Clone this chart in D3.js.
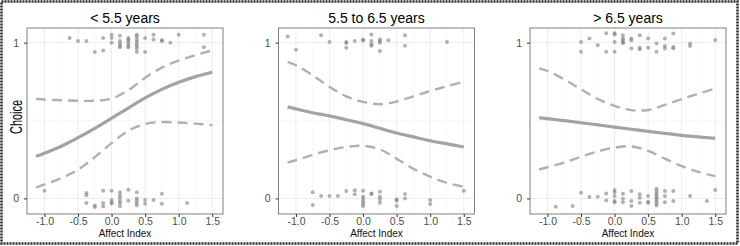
<!DOCTYPE html>
<html>
<head>
<meta charset="utf-8">
<script src="https://cdn.jsdelivr.net/npm/d3@7"></script>
<style>
  body { margin: 0; background: #fff; }
  svg { display: block; font-family: "Liberation Sans", Arial, sans-serif; }
</style>
</head>
<body>
<div id="chart"></div>
<script>
// chart size
const width = 740;
const height = 246;

// panel titles and axis ticks
const panelTitles = ["< 5.5 years", "5.5 to 6.5 years", "> 6.5 years"];
const xTicks = [-1.0, -0.5, 0.0, 0.5, 1.0, 1.5];
const xMinor = [-0.75, -0.25, 0.25, 0.75, 1.25];
const yTicks = [0, 1];
const yMinor = [0.5];

const curveX = [-1.125, -1, -0.75, -0.5, -0.25, 0, 0.25, 0.5, 0.75, 1, 1.25, 1.5];

// panel 1 (< 5.5 years)
const fit1 = [0.27, 0.29, 0.335, 0.39, 0.45, 0.515, 0.58, 0.645, 0.70, 0.745, 0.782, 0.81];
const upper1 = [0.64, 0.635, 0.63, 0.627, 0.627, 0.64, 0.695, 0.775, 0.84, 0.885, 0.92, 0.95];
const lower1 = [0.07, 0.09, 0.13, 0.185, 0.265, 0.355, 0.435, 0.478, 0.49, 0.487, 0.48, 0.47];
const points1 = [
  [-0.625, 1.03], [-0.5, 1.01], [-0.375, 1.01], [-0.25, 0.94], [-0.125, 1.03], [-0.125, 0.95],
  [0, 1.05], [0, 1.03], [0, 1.0],
  [0.125, 1.045], [0.125, 1.01], [0.125, 0.995], [0.125, 0.98], [0.125, 0.97],
  [0.25, 1.03], [0.25, 1.02], [0.25, 1.01], [0.25, 0.995], [0.25, 0.98], [0.25, 0.97],
  [0.375, 1.05], [0.375, 1.04], [0.375, 1.02], [0.375, 1.005], [0.375, 0.99], [0.375, 0.975], [0.375, 0.96], [0.375, 0.94],
  [0.5, 1.03], [0.5, 0.94], [0.625, 1.05], [0.625, 1.02], [0.75, 1.015], [0.75, 1.01],
  [0.875, 1.0], [1.0, 1.05], [1.375, 1.05], [1.375, 0.97],
  [-1.0, 0.05], [-0.375, 0.035], [-0.375, 0.02], [-0.375, -0.03], [-0.25, -0.045], [-0.25, -0.055],
  [-0.125, 0.05], [-0.125, -0.03], [-0.125, -0.05],
  [0, 0.05], [0, -0.01], [0, -0.025], [0, -0.035],
  [0.125, 0.04], [0.125, 0.02], [0.125, 0.005], [0.125, -0.015], [0.125, -0.03], [0.125, -0.05],
  [0.25, 0.055], [0.25, -0.015],
  [0.375, 0.04], [0.375, 0.0], [0.375, -0.015], [0.375, -0.03], [0.375, -0.045],
  [0.5, -0.01], [0.5, -0.035], [0.625, -0.01], [0.75, 0.03], [0.75, -0.035], [1.125, -0.03]
];

// panel 2 (5.5 to 6.5 years)
const fit2 = [0.588, 0.575, 0.55, 0.53, 0.505, 0.48, 0.45, 0.42, 0.395, 0.37, 0.35, 0.33];
const upper2 = [0.876, 0.855, 0.79, 0.716, 0.655, 0.62, 0.605, 0.622, 0.655, 0.69, 0.72, 0.75];
const lower2 = [0.23, 0.245, 0.28, 0.31, 0.33, 0.338, 0.315, 0.255, 0.19, 0.14, 0.10, 0.075];
const points2 = [
  [-1.125, 1.04], [-1.0, 0.955], [-0.625, 1.047], [-0.5, 1.004],
  [-0.25, 1.004], [-0.25, 0.998], [-0.25, 0.968], [-0.125, 1.01], [0, 1.02], [0, 1.013],
  [0.125, 1.053], [0.125, 1.01], [0.125, 0.99], [0.125, 0.98],
  [0.25, 1.02], [0.25, 1.01], [0.25, 1.0], [0.25, 0.947],
  [0.375, 1.015], [0.625, 1.047], [0.625, 0.98], [1.25, 1.004],
  [-0.75, 0.04], [-0.75, -0.043], [-0.625, 0.015], [-0.5, 0.015], [-0.375, 0.015], [-0.25, 0.047],
  [-0.125, 0.053], [-0.125, 0.026],
  [0, 0.049], [0, 0.01], [0, -0.004], [0, -0.019], [0, -0.034], [0, -0.049],
  [0.125, 0.032], [0.125, 0.028],
  [0.25, 0.043], [0.25, 0.01], [0.25, -0.006], [0.25, -0.028],
  [0.5, -0.006], [0.5, -0.015], [0.5, -0.049], [0.625, 0.028], [0.625, 0.0],
  [1.0, -0.01], [1.0, -0.036], [1.5, 0.049]
];

// panel 3 (> 6.5 years)
const fit3 = [0.518, 0.512, 0.499, 0.486, 0.472, 0.458, 0.444, 0.43, 0.418, 0.405, 0.395, 0.385];
const upper3 = [0.835, 0.818, 0.764, 0.70, 0.638, 0.594, 0.567, 0.568, 0.60, 0.638, 0.672, 0.705];
const lower3 = [0.186, 0.20, 0.23, 0.268, 0.302, 0.326, 0.334, 0.306, 0.255, 0.208, 0.17, 0.143];
const points3 = [
  [-0.5, 1.004], [-0.5, 0.942], [-0.375, 1.026], [-0.25, 0.983], [-0.125, 1.06], [-0.125, 0.942],
  [0, 1.06], [0, 1.053], [0, 1.004], [0, 0.942],
  [0.125, 1.047], [0.125, 1.026], [0.125, 1.015], [0.125, 1.004], [0.125, 0.996],
  [0.25, 1.026], [0.25, 1.015], [0.25, 0.962], [0.375, 1.047], [0.375, 0.968], [0.375, 0.957],
  [0.5, 1.026], [0.5, 0.968], [0.625, 0.994], [0.625, 0.942],
  [0.75, 1.026], [0.75, 0.979], [0.75, 0.962], [0.875, 1.058], [0.875, 0.972], [0.875, 0.964],
  [1.125, 0.994], [1.125, 0.979], [1.5, 1.017],
  [-0.875, -0.054], [-0.625, -0.049], [-0.5, 0.036], [-0.375, 0.009], [-0.25, 0.011],
  [-0.125, 0.032], [-0.125, -0.013],
  [0, 0.054], [0, 0.04], [0, 0.015], [0, -0.017], [0, -0.024],
  [0.125, 0.03], [0.125, -0.002], [0.125, -0.024],
  [0.25, 0.047], [0.25, -0.017], [0.25, -0.049],
  [0.375, 0.026], [0.375, 0.004], [0.375, -0.028],
  [0.5, 0.015], [0.5, -0.021], [0.5, -0.028],
  [0.625, 0.062], [0.625, 0.047], [0.625, 0.032], [0.625, 0.019], [0.625, 0.006], [0.625, -0.006], [0.625, -0.019], [0.625, -0.032], [0.625, -0.045],
  [0.75, 0.047], [0.75, 0.015], [0.75, -0.024], [0.875, 0.047], [0.875, -0.017],
  [1.125, 0.015], [1.375, -0.017], [1.5, 0.054]
];

const panels = [
  { title: panelTitles[0], fit: fit1, upper: upper1, lower: lower1, points: points1 },
  { title: panelTitles[1], fit: fit2, upper: upper2, lower: lower2, points: points2 },
  { title: panelTitles[2], fit: fit3, upper: upper3, lower: lower3, points: points3 }
];

// layout
const panelTop = 28;
const panelBottom = 214;
const panelW = 196;
const panelStep = 251.5;
const firstLeft = 27;

const svg = d3.select("#chart")
  .append("svg")
    .attr("width", width)
    .attr("height", height);

svg.append("rect")
  .attr("width", width)
  .attr("height", height)
  .attr("fill", "#fff");

// y scale is the same for every panel
const y = d3.scaleLinear()
  .domain([-0.1, 1.094])
  .range([panelBottom, panelTop]);

panels.forEach(function(p, i) {
  const left = firstLeft + i * panelStep;
  const x = d3.scaleLinear()
    .domain([-1.26, 1.66])
    .range([left, left + panelW]);

  const g = svg.append("g");

  // minor grid
  g.selectAll(".vminor").data(xMinor).join("line")
    .attr("x1", d => x(d)).attr("x2", d => x(d))
    .attr("y1", panelTop).attr("y2", panelBottom)
    .attr("stroke", "#f3f3f3").attr("stroke-width", 0.6);
  g.selectAll(".hminor").data(yMinor).join("line")
    .attr("x1", left).attr("x2", left + panelW)
    .attr("y1", d => y(d)).attr("y2", d => y(d))
    .attr("stroke", "#f3f3f3").attr("stroke-width", 0.6);

  // major grid
  g.selectAll(".vmajor").data(xTicks).join("line")
    .attr("x1", d => x(d)).attr("x2", d => x(d))
    .attr("y1", panelTop).attr("y2", panelBottom)
    .attr("stroke", "#ededed").attr("stroke-width", 1);
  g.selectAll(".hmajor").data(yTicks).join("line")
    .attr("x1", left).attr("x2", left + panelW)
    .attr("y1", d => y(d)).attr("y2", d => y(d))
    .attr("stroke", "#ededed").attr("stroke-width", 1);

  // jittered observations
  g.selectAll("circle").data(p.points).join("circle")
    .attr("cx", d => x(d[0]))
    .attr("cy", d => y(d[1]))
    .attr("r", 2)
    .attr("fill", "#7f7f7f")
    .attr("fill-opacity", 0.6);

  // fitted curve with confidence band
  const line = d3.line()
    .x((d, k) => x(curveX[k]))
    .y(d => y(d))
    .curve(d3.curveCatmullRom.alpha(0.5));

  [p.upper, p.lower].forEach(function(band) {
    g.append("path")
      .attr("d", line(band))
      .attr("fill", "none")
      .attr("stroke", "#b0b0b0")
      .attr("stroke-width", 2.4)
      .attr("stroke-dasharray", "10,6");
  });

  g.append("path")
    .attr("d", line(p.fit))
    .attr("fill", "none")
    .attr("stroke", "#a3a3a3")
    .attr("stroke-width", 3.2);

  // panel border
  g.append("rect")
    .attr("x", left).attr("y", panelTop)
    .attr("width", panelW).attr("height", panelBottom - panelTop)
    .attr("fill", "none")
    .attr("stroke", "#808080")
    .attr("stroke-width", 1);

  // x axis
  const xAxis = g.append("g")
    .attr("transform", `translate(0,${panelBottom})`)
    .call(d3.axisBottom(x).tickValues(xTicks).tickSize(3).tickFormat(d3.format(".1f")));
  xAxis.select(".domain").remove();
  xAxis.selectAll("line").attr("stroke", "#333");
  xAxis.selectAll("text")
    .attr("fill", "#4d4d4d")
    .attr("dy", "0.5em")
    .style("font-size", "10.5px")
    .text(d => d3.format(".1f")(d).replace("\u2212", "-"));

  // y axis
  const yAxis = g.append("g")
    .attr("transform", `translate(${left},0)`)
    .call(d3.axisLeft(y).tickValues(yTicks).tickSize(3).tickPadding(5).tickFormat(d3.format("d")));
  yAxis.select(".domain").remove();
  yAxis.selectAll("line").attr("stroke", "#333");
  yAxis.selectAll("text")
    .attr("fill", "#4d4d4d")
    .style("font-size", "10.5px");

  // titles
  g.append("text")
    .attr("x", left + panelW / 2)
    .attr("y", 22.5)
    .attr("text-anchor", "middle")
    .attr("fill", "#000")
    .style("font-size", "14px")
    .text(p.title);

  g.append("text")
    .attr("x", left + panelW / 2)
    .attr("y", 236.5)
    .attr("text-anchor", "middle")
    .attr("fill", "#111")
    .style("font-size", "10px")
    .text("Affect Index");
});

// shared y axis title on the first panel
svg.append("text")
  .attr("transform", `translate(21.5,${(panelTop + panelBottom) / 2 - 4}) rotate(-90)`)
  .attr("text-anchor", "middle")
  .attr("fill", "#000")
  .attr("textLength", 34)
  .attr("lengthAdjust", "spacingAndGlyphs")
  .style("font-size", "16px")
  .text("Choice");

// outer frame
svg.append("rect")
  .attr("x", 1.5).attr("y", 1.5)
  .attr("width", width - 4).attr("height", height - 4)
  .attr("fill", "none")
  .attr("stroke", "#2a2a2a")
  .attr("stroke-width", 2.5)
  .attr("stroke-dasharray", "2,1");
</script>
</body>
</html>
